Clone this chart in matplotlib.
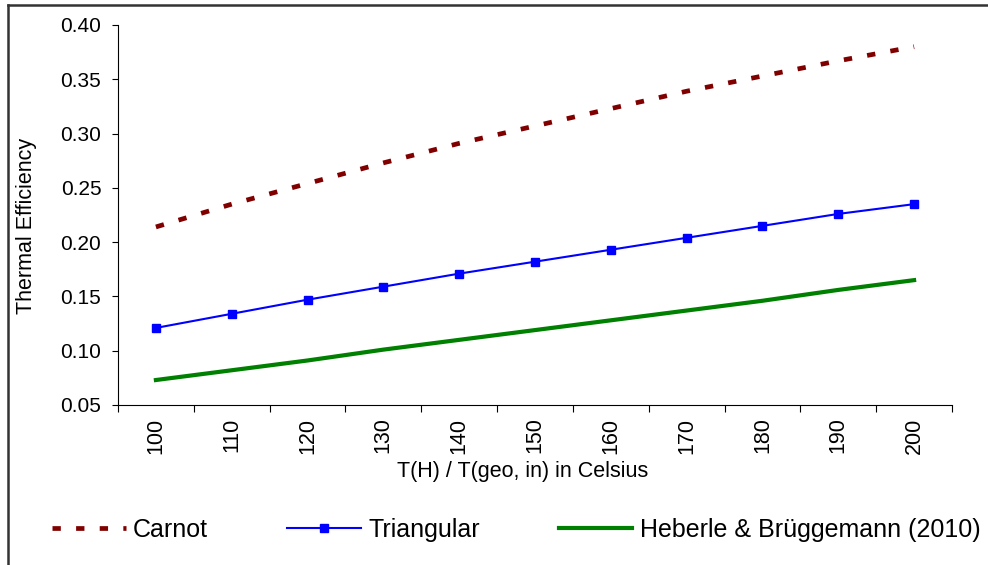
import matplotlib.pyplot as plt
import numpy as np
from matplotlib.lines import Line2D

plt.rcParams['font.family'] = ['Liberation Sans', 'DejaVu Sans']
plt.rcParams['lines.scale_dashes'] = False

temps = [100, 110, 120, 130, 140, 150, 160, 170, 180, 190, 200]
carnot = [0.214, 0.235, 0.254, 0.273, 0.291, 0.307, 0.323, 0.339, 0.353, 0.367, 0.380]
triangular = [0.121, 0.134, 0.147, 0.159, 0.171, 0.182, 0.193, 0.204, 0.215, 0.226, 0.235]
heberle = [0.073, 0.082, 0.091, 0.101, 0.110, 0.119, 0.128, 0.137, 0.146, 0.156, 0.165]

fig = plt.figure(figsize=(9.88, 5.65), dpi=100)
ax = fig.add_axes([118/988, 1-405/565, (952-118)/988, (405-25)/565])

x = np.arange(len(temps))
ax.plot(x, carnot, color='#800000', lw=3.4, dashes=[6, 11], label='Carnot')
ax.plot(x, triangular, color='#0000ff', lw=1.5, marker='s', markersize=5.5, label='Triangular')
ax.plot(x, heberle, color='#008000', lw=3, label='Heberle & Brüggemann (2010)')

ax.set_xlim(-0.5, len(temps)-0.5)
ax.set_ylim(0.05, 0.40)
yt = np.arange(0.05, 0.401, 0.05)
ax.set_yticks(yt)
ax.set_yticklabels(['%.2f' % v for v in yt], fontsize=15)
ax.set_xticks(np.arange(-0.5, len(temps)), minor=False)
ax.set_xticklabels([])
ax.set_xticks(x, minor=True)
ax.set_xticklabels([str(t) for t in temps], minor=True, rotation=90, fontsize=15.5)
ax.tick_params(axis='x', which='major', length=5, direction='out')
ax.tick_params(axis='x', which='minor', length=0, pad=9)
ax.tick_params(axis='y', length=4, direction='out', pad=8)

for s in ['top', 'right']:
    ax.spines[s].set_visible(False)

ax.set_xlabel('T(H) / T(geo, in) in Celsius', fontsize=15.5)
ax.xaxis.set_label_coords(0.4856, -0.147)
ax.set_ylabel('Thermal Efficiency', fontsize=15.5)
ax.yaxis.set_label_coords(-0.097, 0.471)

# chart frame (cropped on right and bottom)
fig.add_artist(Line2D([8/988, 8/988], [0, 1-5/565], color='#333333', lw=1.8, transform=fig.transFigure))
fig.add_artist(Line2D([8/988, 1], [1-5/565, 1-5/565], color='#333333', lw=1.8, transform=fig.transFigure))

fig.legend(loc='center left', bbox_to_anchor=(52/988, 1-530/565), ncol=3, frameon=False,
           fontsize=18, handlelength=2.95, columnspacing=3.15, handletextpad=0.3,
           borderpad=0, borderaxespad=0)

fig.savefig('out.png', dpi=100)
